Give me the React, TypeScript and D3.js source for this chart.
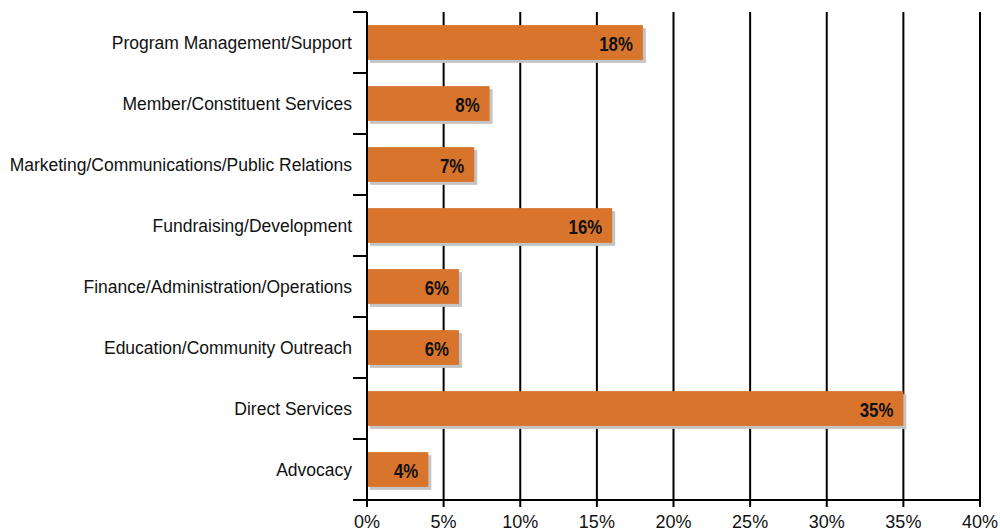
import React, { useEffect, useRef } from 'react';
import * as d3 from 'd3';

// categories, top to bottom
const categories = [
    'Program Management/Support',
    'Member/Constituent Services',
    'Marketing/Communications/Public Relations',
    'Fundraising/Development',
    'Finance/Administration/Operations',
    'Education/Community Outreach',
    'Direct Services',
    'Advocacy',
];
const values = [18, 8, 7, 16, 6, 6, 35, 4];
const xTicks = [0, 5, 10, 15, 20, 25, 30, 35, 40];

const W = 1000;
const H = 531;
const BAR = '#d8742c';

export default function App() {
    const svgRef = useRef<SVGSVGElement>(null);

    useEffect(() => {
        if (!svgRef.current) return;
        const svg = d3.select(svgRef.current);
        svg.selectAll('*').remove();

        const left = 367, right = 980, top = 12, bottom = 500;

        const x = d3.scaleLinear().domain([0, 40]).range([left, right]);
        const y = d3.scaleBand<string>().domain(categories).range([top, bottom]).paddingInner(0.43).paddingOuter(0.215);

        // gridlines
        svg.append('g')
            .selectAll('line')
            .data(xTicks.slice(1))
            .join('line')
            .attr('x1', d => x(d)).attr('x2', d => x(d))
            .attr('y1', top).attr('y2', bottom)
            .attr('stroke', '#000').attr('stroke-width', 2);

        const rows = categories.map((c, i) => ({ c, v: values[i] }));

        // shadows
        svg.append('g')
            .selectAll('rect')
            .data(rows)
            .join('rect')
            .attr('x', x(0) + 3)
            .attr('y', d => (y(d.c) as number) + 3)
            .attr('width', d => x(d.v) - x(0))
            .attr('height', y.bandwidth())
            .attr('fill', '#c4c4c4');

        svg.append('g')
            .selectAll('rect')
            .data(rows)
            .join('rect')
            .attr('x', x(0))
            .attr('y', d => y(d.c) as number)
            .attr('width', d => x(d.v) - x(0))
            .attr('height', y.bandwidth())
            .attr('fill', BAR);

        // value labels (condensed look via horizontal scale)
        svg.append('g')
            .selectAll('text')
            .data(rows)
            .join('text')
            .attr('transform', d => `translate(${x(d.v) - 10},${(y(d.c) as number) + y.bandwidth() / 2 + 1}) scale(0.8,1)`)
            .attr('text-anchor', 'end')
            .attr('dominant-baseline', 'central')
            .attr('font-family', '"Liberation Sans", Arial, sans-serif')
            .attr('font-weight', 'bold')
            .attr('font-size', 21)
            .attr('fill', '#111')
            .text(d => d.v + '%');

        // y axis
        const yAxis = svg.append('g');
        yAxis.append('line')
            .attr('x1', left).attr('x2', left).attr('y1', top).attr('y2', bottom)
            .attr('stroke', '#000').attr('stroke-width', 2);
        const step = y.step();
        yAxis.selectAll('line.tick')
            .data(d3.range(categories.length))
            .join('line')
            .attr('class', 'tick')
            .attr('x1', left - 14).attr('x2', left)
            .attr('y1', i => top + i * step).attr('y2', i => top + i * step)
            .attr('stroke', '#000').attr('stroke-width', 2);
        yAxis.selectAll('text')
            .data(categories)
            .join('text')
            .attr('x', left - 15)
            .attr('y', d => (y(d) as number) + y.bandwidth() / 2)
            .attr('text-anchor', 'end')
            .attr('dominant-baseline', 'central')
            .attr('font-family', '"Liberation Sans", Arial, sans-serif')
            .attr('font-size', 17.5)
            .attr('fill', '#111')
            .text(d => d);

        // x axis
        const xAxis = svg.append('g');
        xAxis.append('line')
            .attr('x1', left - 14).attr('x2', right).attr('y1', bottom).attr('y2', bottom)
            .attr('stroke', '#000').attr('stroke-width', 2);
        xAxis.selectAll('line.tick')
            .data(xTicks)
            .join('line')
            .attr('class', 'tick')
            .attr('x1', d => x(d)).attr('x2', d => x(d))
            .attr('y1', bottom).attr('y2', bottom + 7)
            .attr('stroke', '#000').attr('stroke-width', 2);
        xAxis.selectAll('text')
            .data(xTicks)
            .join('text')
            .attr('x', d => x(d))
            .attr('y', 528)
            .attr('text-anchor', 'middle')
            .attr('font-family', '"Liberation Sans", Arial, sans-serif')
            .attr('font-size', 18)
            .attr('fill', '#111')
            .text(d => d + '%');
    }, []);

    return (
        <div style={{ position: 'absolute', left: 0, top: 0, width: W, height: H, background: '#fff' }}>
            <svg ref={svgRef} width={W} height={H} />
        </div>
    );
}
